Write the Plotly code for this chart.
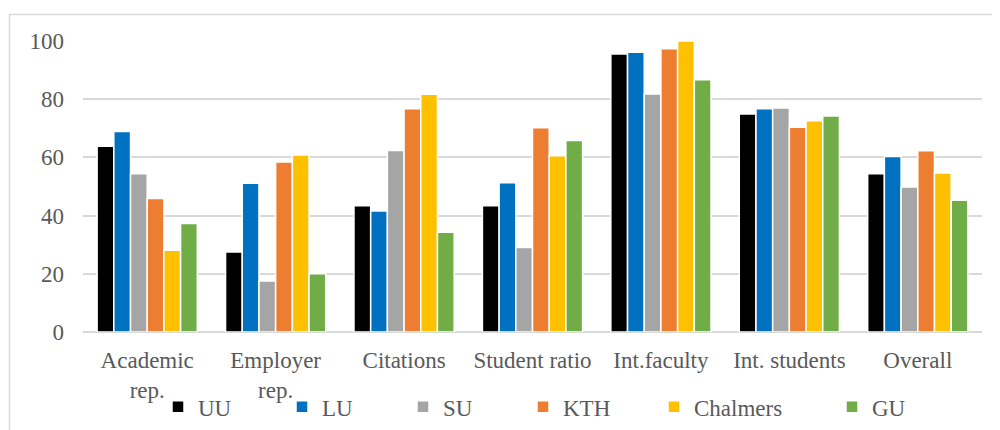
import plotly.graph_objects as go

categories = ["Academic<br>rep.", "Employer<br>rep.", "Citations", "Student ratio",
              "Int.faculty", "Int. students", "Overall"]
UU = [63.8, 27.5, 43.4, 43.4, 95.5, 74.9, 54.4]
LU = [68.9, 51.1, 41.6, 51.3, 96.1, 76.7, 60.3]
SU = [54.4, 17.5, 62.4, 29.0, 81.8, 77.0, 49.8]
KTH = [45.9, 58.4, 76.7, 70.2, 97.3, 70.4, 62.3]
Chalmers = [28.1, 60.8, 81.7, 60.6, 100.0, 72.6, 54.6]
GU = [37.3, 20.0, 34.3, 65.8, 86.7, 74.2, 45.3]

series = [("UU", UU, "#000000"), ("LU", LU, "#0070C0"), ("SU", SU, "#A5A5A5"),
          ("KTH", KTH, "#ED7D31"), ("Chalmers", Chalmers, "#FFC000"), ("GU", GU, "#70AD47")]

FONT = "Liberation Serif"
TXT = "#595959"
OFF = 8  # browser body margin
W, H = 1000 - OFF, 430 - OFF
ML, MR, MT = 83 - OFF, 18, 40.5 - OFF
PB = 332 - OFF  # plot bottom in figure px
MB = H - PB
PW = W - ML - MR
PH = PB - MT

# legend text x positions (px, page) from reference
legend_text_px = [204, 328, 449, 569, 700, 878]

fig = go.Figure()
layout_legends = {}
for i, (name, vals, col) in enumerate(series):
    lname = "legend" if i == 0 else f"legend{i+1}"
    fig.add_trace(go.Bar(x=categories, y=vals, name=name,
                         marker=dict(color=col, line=dict(color="white", width=1.5)),
                         legend=lname))
    layout_legends[lname] = dict(
        x=(legend_text_px[i] - OFF - 46 - ML) / PW, xanchor="left",
        y=-(407 - OFF - PB) / PH, yanchor="middle",
        orientation="h", bgcolor="rgba(0,0,0,0)", itemwidth=30,
        font=dict(family=FONT, size=23, color=TXT),
    )

fig.update_layout(
    template="none",
    width=W, height=H,
    margin=dict(l=ML, r=MR, t=MT, b=MB, autoexpand=False),
    paper_bgcolor="white", plot_bgcolor="white",
    barmode="group", bargap=0.22, bargroupgap=0,
    font=dict(family=FONT, size=23, color=TXT),
    showlegend=True,
    **layout_legends,
)
fig.update_yaxes(range=[0, 100], dtick=20, showgrid=True, gridcolor="#D9D9D9", gridwidth=1.5,
                 zeroline=True, zerolinecolor="#D9D9D9", zerolinewidth=1.5,
                 showline=False, ticks="", ticklabelstandoff=18, automargin=False,
                 tickfont=dict(family=FONT, size=23, color=TXT))
fig.update_xaxes(showline=False, ticks="", tickangle=0, automargin=False,
                 ticklabelstandoff=12,
                 tickfont=dict(family=FONT, size=23, color=TXT))

fig.add_shape(type="rect", xref="paper", yref="paper",
              x0=(9.5 - OFF - ML) / PW, x1=1.2, y0=-0.6, y1=(PB - (14 - OFF)) / PH,
              line=dict(color="#D9D9D9", width=1.5), fillcolor="rgba(0,0,0,0)", layer="below")

fig.write_html("out.html")
